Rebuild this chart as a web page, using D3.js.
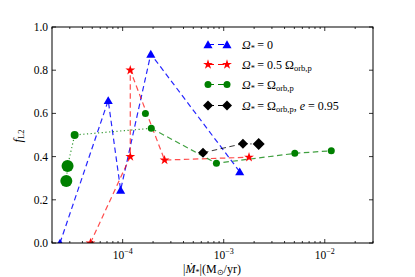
<!DOCTYPE html>
<html><head><meta charset="utf-8">
<script src="https://cdn.jsdelivr.net/npm/d3@7"></script>
<style>body{margin:0;background:#fff}svg{display:block}text{font-family:"Liberation Serif",serif;fill:#000}</style>
</head><body><svg id="c" width="415" height="277"></svg>
<script>
// Data
const omega0 = [[2.4e-5,0.0],[7.2e-5,0.66],[9.55e-5,0.245],[1.9e-4,0.875],[1.44e-3,0.33]];
const omegaHalf = [[4.8e-5,0.0],[1.19e-4,0.40],[1.19e-4,0.80],[2.6e-4,0.384],[1.78e-3,0.397]];
const omegaOrbDotted = [[2.77e-5,0.287,6],[2.85e-5,0.356,6],[3.35e-5,0.50,4],[1.92e-4,0.531,3.5]];
const omegaOrbExtra = [[1.68e-4,0.60,3.5]];
const omegaOrbDashed = [[1.92e-4,0.531,3.5],[8.47e-4,0.369,3.5],[5.05e-3,0.415,3.5],[1.16e-2,0.427,3.5]];
const eccDashed = [[6.24e-4,0.418,5],[1.55e-3,0.46,5]];
const eccDotted = [[1.55e-3,0.46,5],[2.22e-3,0.458,6]];
const yTicks = [0,0.2,0.4,0.6,0.8,1.0];
const xTicks = [1e-4,1e-3,1e-2];

const svg = d3.select("#c");
const L=52,R=373,T=27,B=243;
const x = d3.scaleLog().domain([2e-5,3e-2]).range([L,R]);
const y = d3.scaleLinear().domain([0,1]).range([B,T]);

svg.append("clipPath").attr("id","cp").append("rect").attr("x",L).attr("y",T).attr("width",R-L).attr("height",B-T);

const line = d3.line().x(d=>x(d[0])).y(d=>y(d[1]));
const plot = svg.append("g").attr("clip-path","url(#cp)");

function drawLine(data,color,dash,op){
  plot.append("path").attr("d",line(data)).attr("fill","none").attr("stroke",color)
    .attr("stroke-width",1.2).attr("stroke-dasharray",dash).attr("opacity",op);
}
drawLine(omega0,"#0000ff","5.5,3.5",0.85);
drawLine(omegaHalf,"#ff0000","5.5,3.5",0.7);
drawLine(omegaOrbDotted,"#008000","1.2,2.5",0.8);
drawLine(omegaOrbDashed,"#008000","5.5,3.5",0.75);
drawLine(eccDashed,"#000","5.5,3.5",0.75);
drawLine(eccDotted,"#000","1.2,2.5",0.75);

const tri = d3.symbol().type(d3.symbolTriangle).size(36);
const star = d3.symbol().type(d3.symbolStar).size(30);
function diamond(r){return `M0,${-r}L${r},0L0,${r}L${-r},0Z`;}

const mk = plot;
mk.selectAll(".tri").data(omega0).join("path").attr("d",tri)
  .attr("transform",d=>`translate(${x(d[0])},${y(d[1])+1})`).attr("fill","#0000ff");
mk.selectAll(".star").data(omegaHalf).join("path").attr("d",star)
  .attr("transform",d=>`translate(${x(d[0])},${y(d[1])})`).attr("fill","#ff0000");
mk.selectAll(".gc").data(omegaOrbDotted.concat(omegaOrbExtra, omegaOrbDashed.slice(1))).join("circle")
  .attr("cx",d=>x(d[0])).attr("cy",d=>y(d[1])).attr("r",d=>d[2]).attr("fill","#008000");
mk.selectAll(".dm").data([eccDashed[0],eccDashed[1],eccDotted[1]]).join("path")
  .attr("d",d=>diamond(d[2])).attr("transform",d=>`translate(${x(d[0])},${y(d[1])})`).attr("fill","#000");

// Axes frame
svg.append("rect").attr("x",L).attr("y",T).attr("width",R-L).attr("height",B-T)
  .attr("fill","none").attr("stroke","#000").attr("stroke-width",1);

// ticks
const ax = svg.append("g").attr("stroke","#000").attr("stroke-width",0.8);
const minor=[];
for(let e=-5;e<=-2;e++){for(let m=2;m<=9;m++){const v=m*Math.pow(10,e); if(v>=2e-5&&v<=3e-2) minor.push(v);}}
minor.forEach(v=>{const px=x(v);
  ax.append("line").attr("x1",px).attr("x2",px).attr("y1",B).attr("y2",B-2);
  ax.append("line").attr("x1",px).attr("x2",px).attr("y1",T).attr("y2",T+2);});
xTicks.forEach(v=>{const px=x(v);
  ax.append("line").attr("x1",px).attr("x2",px).attr("y1",B).attr("y2",B-4);
  ax.append("line").attr("x1",px).attr("x2",px).attr("y1",T).attr("y2",T+4);
  const t=svg.append("text").attr("x",px).attr("y",B+16).attr("text-anchor","middle").attr("font-size",11.5);
  t.append("tspan").text("10");
  t.append("tspan").attr("dy",-5).attr("font-size",8).text("−"+Math.round(-Math.log10(v)));
});
yTicks.forEach(v=>{const py=y(v);
  ax.append("line").attr("x1",L).attr("x2",L+4).attr("y1",py).attr("y2",py);
  ax.append("line").attr("x1",R).attr("x2",R-4).attr("y1",py).attr("y2",py);
  svg.append("text").attr("x",L-4).attr("y",py+4).attr("text-anchor","end").attr("font-size",11.5).text(v.toFixed(1));
});

// axis labels
const xl = svg.append("text").attr("x",212).attr("y",273).attr("text-anchor","middle").attr("font-size",12);
xl.append("tspan").text("|");
xl.append("tspan").attr("font-style","italic").text("Ṁ");
xl.append("tspan").attr("font-size",8).attr("dy",2).text("*");
xl.append("tspan").attr("font-size",12).attr("dy",-2).text("|(M");
xl.append("tspan").attr("font-size",8).attr("dy",2).text("⊙");
xl.append("tspan").attr("font-size",12).attr("dy",-2).text("/yr)");

const yl = svg.append("text").attr("transform","translate(22,136) rotate(-90)").attr("text-anchor","middle").attr("font-size",12.5);
yl.append("tspan").attr("font-style","italic").text("f");
yl.append("tspan").attr("font-size",8.5).attr("dy",2).text("L2");

// legend
const legY=[44.5,64.5,84.5,105.5];
const leg = svg.append("g");
const lx1=208, lx2=227, tx=242;
function legLine(i,color,dash){
  leg.append("line").attr("x1",lx1).attr("x2",lx2).attr("y1",legY[i]).attr("y2",legY[i])
   .attr("stroke",color).attr("stroke-width",1.2).attr("stroke-dasharray",dash);
}
legLine(0,"#0000ff","6,4");legLine(1,"#ff0000","6,4");legLine(2,"#008000","6,4");legLine(3,"#000","6,4");
[lx1,lx2].forEach(px=>{
  leg.append("path").attr("d",tri).attr("transform",`translate(${px},${legY[0]+1})`).attr("fill","#0000ff");
  leg.append("path").attr("d",star).attr("transform",`translate(${px},${legY[1]})`).attr("fill","#ff0000");
  leg.append("circle").attr("cx",px).attr("cy",legY[2]).attr("r",3.5).attr("fill","#008000");
  leg.append("path").attr("d",diamond(5)).attr("transform",`translate(${px},${legY[3]})`).attr("fill","#000");
});
const FS=12, SS=8.5;
function legText(i,parts){
  // parts: [text, italic, sub]
  const t=leg.append("text").attr("x",tx).attr("y",legY[i]+4).attr("font-size",FS);
  let cur=0;
  parts.forEach(p=>{
    const s=t.append("tspan").text(p[0]);
    if(p[1]) s.attr("font-style","italic");
    const target=p[2]?2.5:0;
    s.attr("dy",target-cur); cur=target;
    s.attr("font-size",p[2]?SS:FS);
  });
}
legText(0,[["Ω",1,0],["*",0,1],["\u2009= 0",0,0]]);
legText(1,[["Ω",1,0],["*",0,1],["\u2009= 0.5 Ω",0,0],["orb,p",0,1]]);
legText(2,[["Ω",1,0],["*",0,1],["\u2009= Ω",0,0],["orb,p",0,1]]);
legText(3,[["Ω",1,0],["*",0,1],["\u2009= Ω",0,0],["orb,p",0,1],[", ",0,0],["e",1,0],[" = 0.95",0,0]]);
</script></body></html>
